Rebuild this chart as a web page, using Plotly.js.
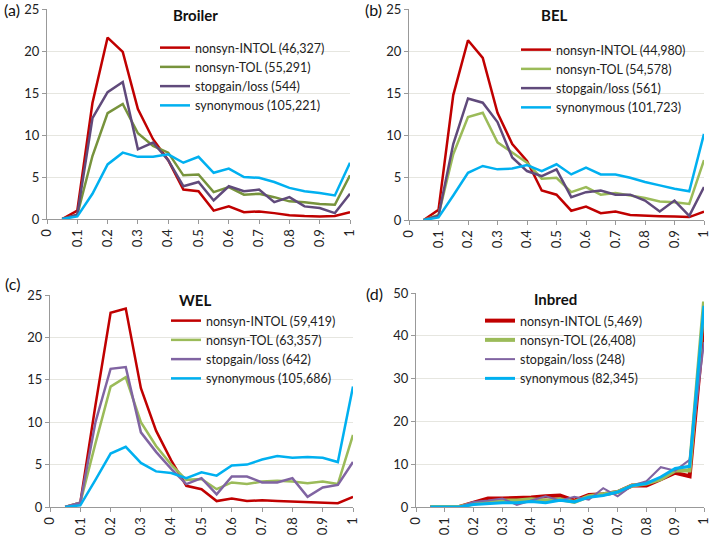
<!DOCTYPE html>
<html>
<head>
<meta charset="utf-8">
<script src="https://cdn.plot.ly/plotly-3.0.1.min.js"></script>
<style>
  html, body { margin: 0; padding: 0; background: #fff; }
  #plot { width: 713px; height: 538px; }
</style>
</head>
<body>
<div id="plot"></div>
<script>
// allele frequency bins
let freq = [0.05, 0.1, 0.15, 0.2, 0.25, 0.3, 0.35, 0.4, 0.45, 0.5,
            0.55, 0.6, 0.65, 0.7, 0.75, 0.8, 0.85, 0.9, 0.95, 1];

// (a) Broiler
let broilerIntol = [0, 1.0, 13.8, 21.6, 19.9, 13.1, 9.5, 7.0, 3.5, 3.3, 1.0, 1.5, 0.8, 0.9, 0.7, 0.45, 0.35, 0.3, 0.35, 0.8];
let broilerTol   = [0, 0.5, 7.5, 12.6, 13.7, 10.2, 8.7, 7.9, 5.2, 5.3, 3.2, 3.8, 2.9, 3.0, 2.6, 2.1, 2.0, 1.8, 1.7, 5.2];
let broilerStop  = [0, 0.5, 12.0, 15.1, 16.3, 8.3, 9.1, 7.0, 3.9, 4.4, 2.2, 3.9, 3.3, 3.5, 2.0, 2.6, 1.5, 1.3, 0.7, 3.0];
let broilerSyn   = [0, 0.3, 3.0, 6.5, 7.9, 7.4, 7.4, 7.7, 6.7, 7.4, 5.5, 6.0, 5.0, 4.9, 4.4, 3.7, 3.3, 3.1, 2.8, 6.7];

// (b) BEL
let belIntol = [0, 1.2, 14.8, 21.3, 19.2, 12.7, 9.0, 7.0, 3.5, 3.0, 1.1, 1.6, 0.8, 1.0, 0.6, 0.5, 0.45, 0.4, 0.35, 1.0];
let belTol   = [0, 0.6, 7.8, 12.2, 12.7, 9.2, 8.0, 6.8, 4.9, 5.0, 3.3, 3.9, 3.0, 3.2, 2.9, 2.6, 2.2, 2.1, 1.9, 7.1];
let belStop  = [0, 0.5, 9.0, 14.4, 13.9, 11.6, 7.4, 5.8, 5.2, 6.0, 2.7, 3.3, 3.5, 3.0, 3.0, 2.3, 1.0, 2.3, 0.5, 3.9];
let belSyn   = [0, 0.3, 2.9, 5.6, 6.4, 6.0, 6.1, 6.5, 5.8, 6.6, 5.4, 6.2, 5.4, 5.4, 5.0, 4.5, 4.1, 3.7, 3.4, 10.2];

// (c) WEL
let welIntol = [0, 0.5, 12.0, 22.9, 23.4, 14.0, 9.0, 5.5, 2.5, 2.1, 0.7, 1.0, 0.7, 0.8, 0.7, 0.65, 0.6, 0.5, 0.45, 1.2];
let welTol   = [0, 0.5, 7.5, 14.2, 15.3, 10.0, 7.2, 5.0, 3.2, 3.3, 2.1, 2.9, 2.7, 3.0, 3.1, 3.0, 2.8, 3.0, 2.7, 8.5];
let welStop  = [0, 0.5, 10.0, 16.3, 16.5, 8.8, 6.5, 4.5, 2.7, 3.4, 1.5, 3.6, 3.6, 2.9, 2.9, 3.4, 1.2, 2.3, 2.6, 5.3];
let welSyn   = [0, 0.2, 3.2, 6.3, 7.1, 5.2, 4.2, 4.0, 3.4, 4.1, 3.7, 4.9, 5.0, 5.6, 6.0, 5.8, 5.9, 5.8, 5.3, 14.2];

// (d) Inbred
let inbredIntol = [0, 0, 0, 1.0, 2.0, 2.0, 2.0, 2.2, 2.5, 2.7, 1.5, 2.8, 3.0, 3.5, 5.0, 5.0, 6.5, 8.0, 7.2, 43];
let inbredTol   = [0, 0, 0, 0.8, 1.2, 1.5, 1.5, 1.8, 1.5, 1.8, 1.2, 2.5, 3.0, 3.5, 5.0, 5.5, 6.5, 8.5, 8.5, 48];
let inbredStop  = [0, 0, 0, 1.2, 1.5, 2.0, 0.5, 1.5, 2.5, 1.5, 2.4, 1.7, 4.4, 2.5, 5.0, 6.0, 9.3, 8.5, 11.0, 38.5];
let inbredSyn   = [0, 0, 0, 0.6, 0.8, 1.0, 1.0, 1.3, 1.0, 1.6, 1.2, 2.3, 2.7, 3.5, 5.0, 5.5, 7.0, 9.0, 9.5, 47];

// legend names
let namesA = ['nonsyn-INTOL (46,327)', 'nonsyn-TOL (55,291)', 'stopgain/loss (544)', 'synonymous (105,221)'];
let namesB = ['nonsyn-INTOL (44,980)', 'nonsyn-TOL (54,578)', 'stopgain/loss (561)', 'synonymous (101,723)'];
let namesC = ['nonsyn-INTOL (59,419)', 'nonsyn-TOL (63,357)', 'stopgain/loss (642)', 'synonymous (105,686)'];
let namesD = ['nonsyn-INTOL (5,469)', 'nonsyn-TOL (26,408)', 'stopgain/loss (248)', 'synonymous (82,345)'];

let red = '#C00000';
let cyan = '#00B0F0';

function makeTrace(y, name, color, width, n, lg) {
    return {
        x: freq, y: y, name: name, type: 'scatter', mode: 'lines',
        line: {color: color, width: width},
        xaxis: 'x' + (n === 1 ? '' : n), yaxis: 'y' + (n === 1 ? '' : n),
        legend: lg
    };
}

var data = [
    makeTrace(broilerIntol, namesA[0], red, 2.5, 1, 'legend'),
    makeTrace(broilerTol, namesA[1], '#77933C', 2.5, 1, 'legend'),
    makeTrace(broilerStop, namesA[2], '#604A7B', 2.5, 1, 'legend'),
    makeTrace(broilerSyn, namesA[3], cyan, 2.5, 1, 'legend'),

    makeTrace(belIntol, namesB[0], red, 2.5, 2, 'legend2'),
    makeTrace(belTol, namesB[1], '#9BBB59', 2.5, 2, 'legend2'),
    makeTrace(belStop, namesB[2], '#604A7B', 2.5, 2, 'legend2'),
    makeTrace(belSyn, namesB[3], cyan, 2.5, 2, 'legend2'),

    makeTrace(welIntol, namesC[0], red, 2.5, 3, 'legend3'),
    makeTrace(welTol, namesC[1], '#9BBB59', 2.5, 3, 'legend3'),
    makeTrace(welStop, namesC[2], '#8064A2', 2.5, 3, 'legend3'),
    makeTrace(welSyn, namesC[3], cyan, 2.5, 3, 'legend3'),

    makeTrace(inbredIntol, namesD[0], red, 4, 4, 'legend4'),
    makeTrace(inbredTol, namesD[1], '#9BBB59', 4, 4, 'legend4'),
    makeTrace(inbredStop, namesD[2], '#8064A2', 2, 4, 'legend4'),
    makeTrace(inbredSyn, namesD[3], cyan, 3, 4, 'legend4')
];

var W = 713, H = 538;
function px(x) { return x / W; }
function py(y) { return 1 - y / H; }

function xax(x0, x1, anchor) {
    return {
        domain: [px(x0), px(x1)], range: [0, 1], dtick: 0.1, tick0: 0,
        tickangle: -90, ticks: 'outside', ticklen: 4, tickcolor: '#999',
        showline: true, linecolor: '#999', linewidth: 1,
        showgrid: false, zeroline: false, anchor: anchor,
        ticklabeloverflow: 'allow',
        tickfont: {size: 13, color: '#222'}
    };
}
function yax(y0, y1, top, step, anchor) {
    return {
        domain: [py(y0), py(y1)], range: [0, top], dtick: step,
        ticks: 'outside', ticklen: 4, tickcolor: '#999',
        showline: true, linecolor: '#999', linewidth: 1,
        showgrid: true, gridcolor: '#e6e6e0', zeroline: false, anchor: anchor,
        ticklabeloverflow: 'allow',
        tickfont: {size: 13, color: '#222'}
    };
}
function leg(x, y) {
    return {
        x: px(x), y: py(y), xanchor: 'left', yanchor: 'top',
        bgcolor: 'rgba(0,0,0,0)', borderwidth: 0, tracegroupgap: 0,
        font: {family: 'Lato, sans-serif', size: 12.5, color: '#222'},
        itemwidth: 30
    };
}
function label(x, y, text, bold, size) {
    return {
        xref: 'paper', yref: 'paper', x: px(x), y: py(y),
        xanchor: 'center', yanchor: 'middle', showarrow: false,
        text: bold ? '<b>' + text + '</b>' : text,
        font: {size: size, color: '#111'}
    };
}

var layout = {
    width: W, height: H,
    margin: {l: 0, r: 0, t: 0, b: 0},
    paper_bgcolor: '#fff', plot_bgcolor: '#fff',
    font: {family: 'Lato, sans-serif', color: '#222'},
    xaxis: xax(47, 350, 'y'),
    yaxis: yax(219, 9, 25, 5, 'x'),
    xaxis2: xax(409, 704, 'y2'),
    yaxis2: yax(220, 9, 25, 5, 'x2'),
    xaxis3: xax(50, 353, 'y3'),
    yaxis3: yax(507, 295, 25, 5, 'x3'),
    xaxis4: xax(416, 704, 'y4'),
    yaxis4: yax(507, 293, 50, 10, 'x4'),
    legend: leg(155, 33),
    legend2: leg(516, 35),
    legend3: leg(166, 306),
    legend4: leg(480, 306),
    annotations: [
        label(12, 10, '(a)', false, 16),
        label(373, 10, '(b)', false, 16),
        label(12, 283, '(c)', false, 16),
        label(375, 293, '(d)', false, 16),
        label(195, 15, 'Broiler', true, 15),
        label(554, 15, 'BEL', true, 15),
        label(195, 300, 'WEL', true, 15),
        label(555, 299, 'Inbred', true, 15)
    ]
};

Plotly.newPlot('plot', data, layout, {staticPlot: true, displayModeBar: false});
</script>
</body>
</html>
